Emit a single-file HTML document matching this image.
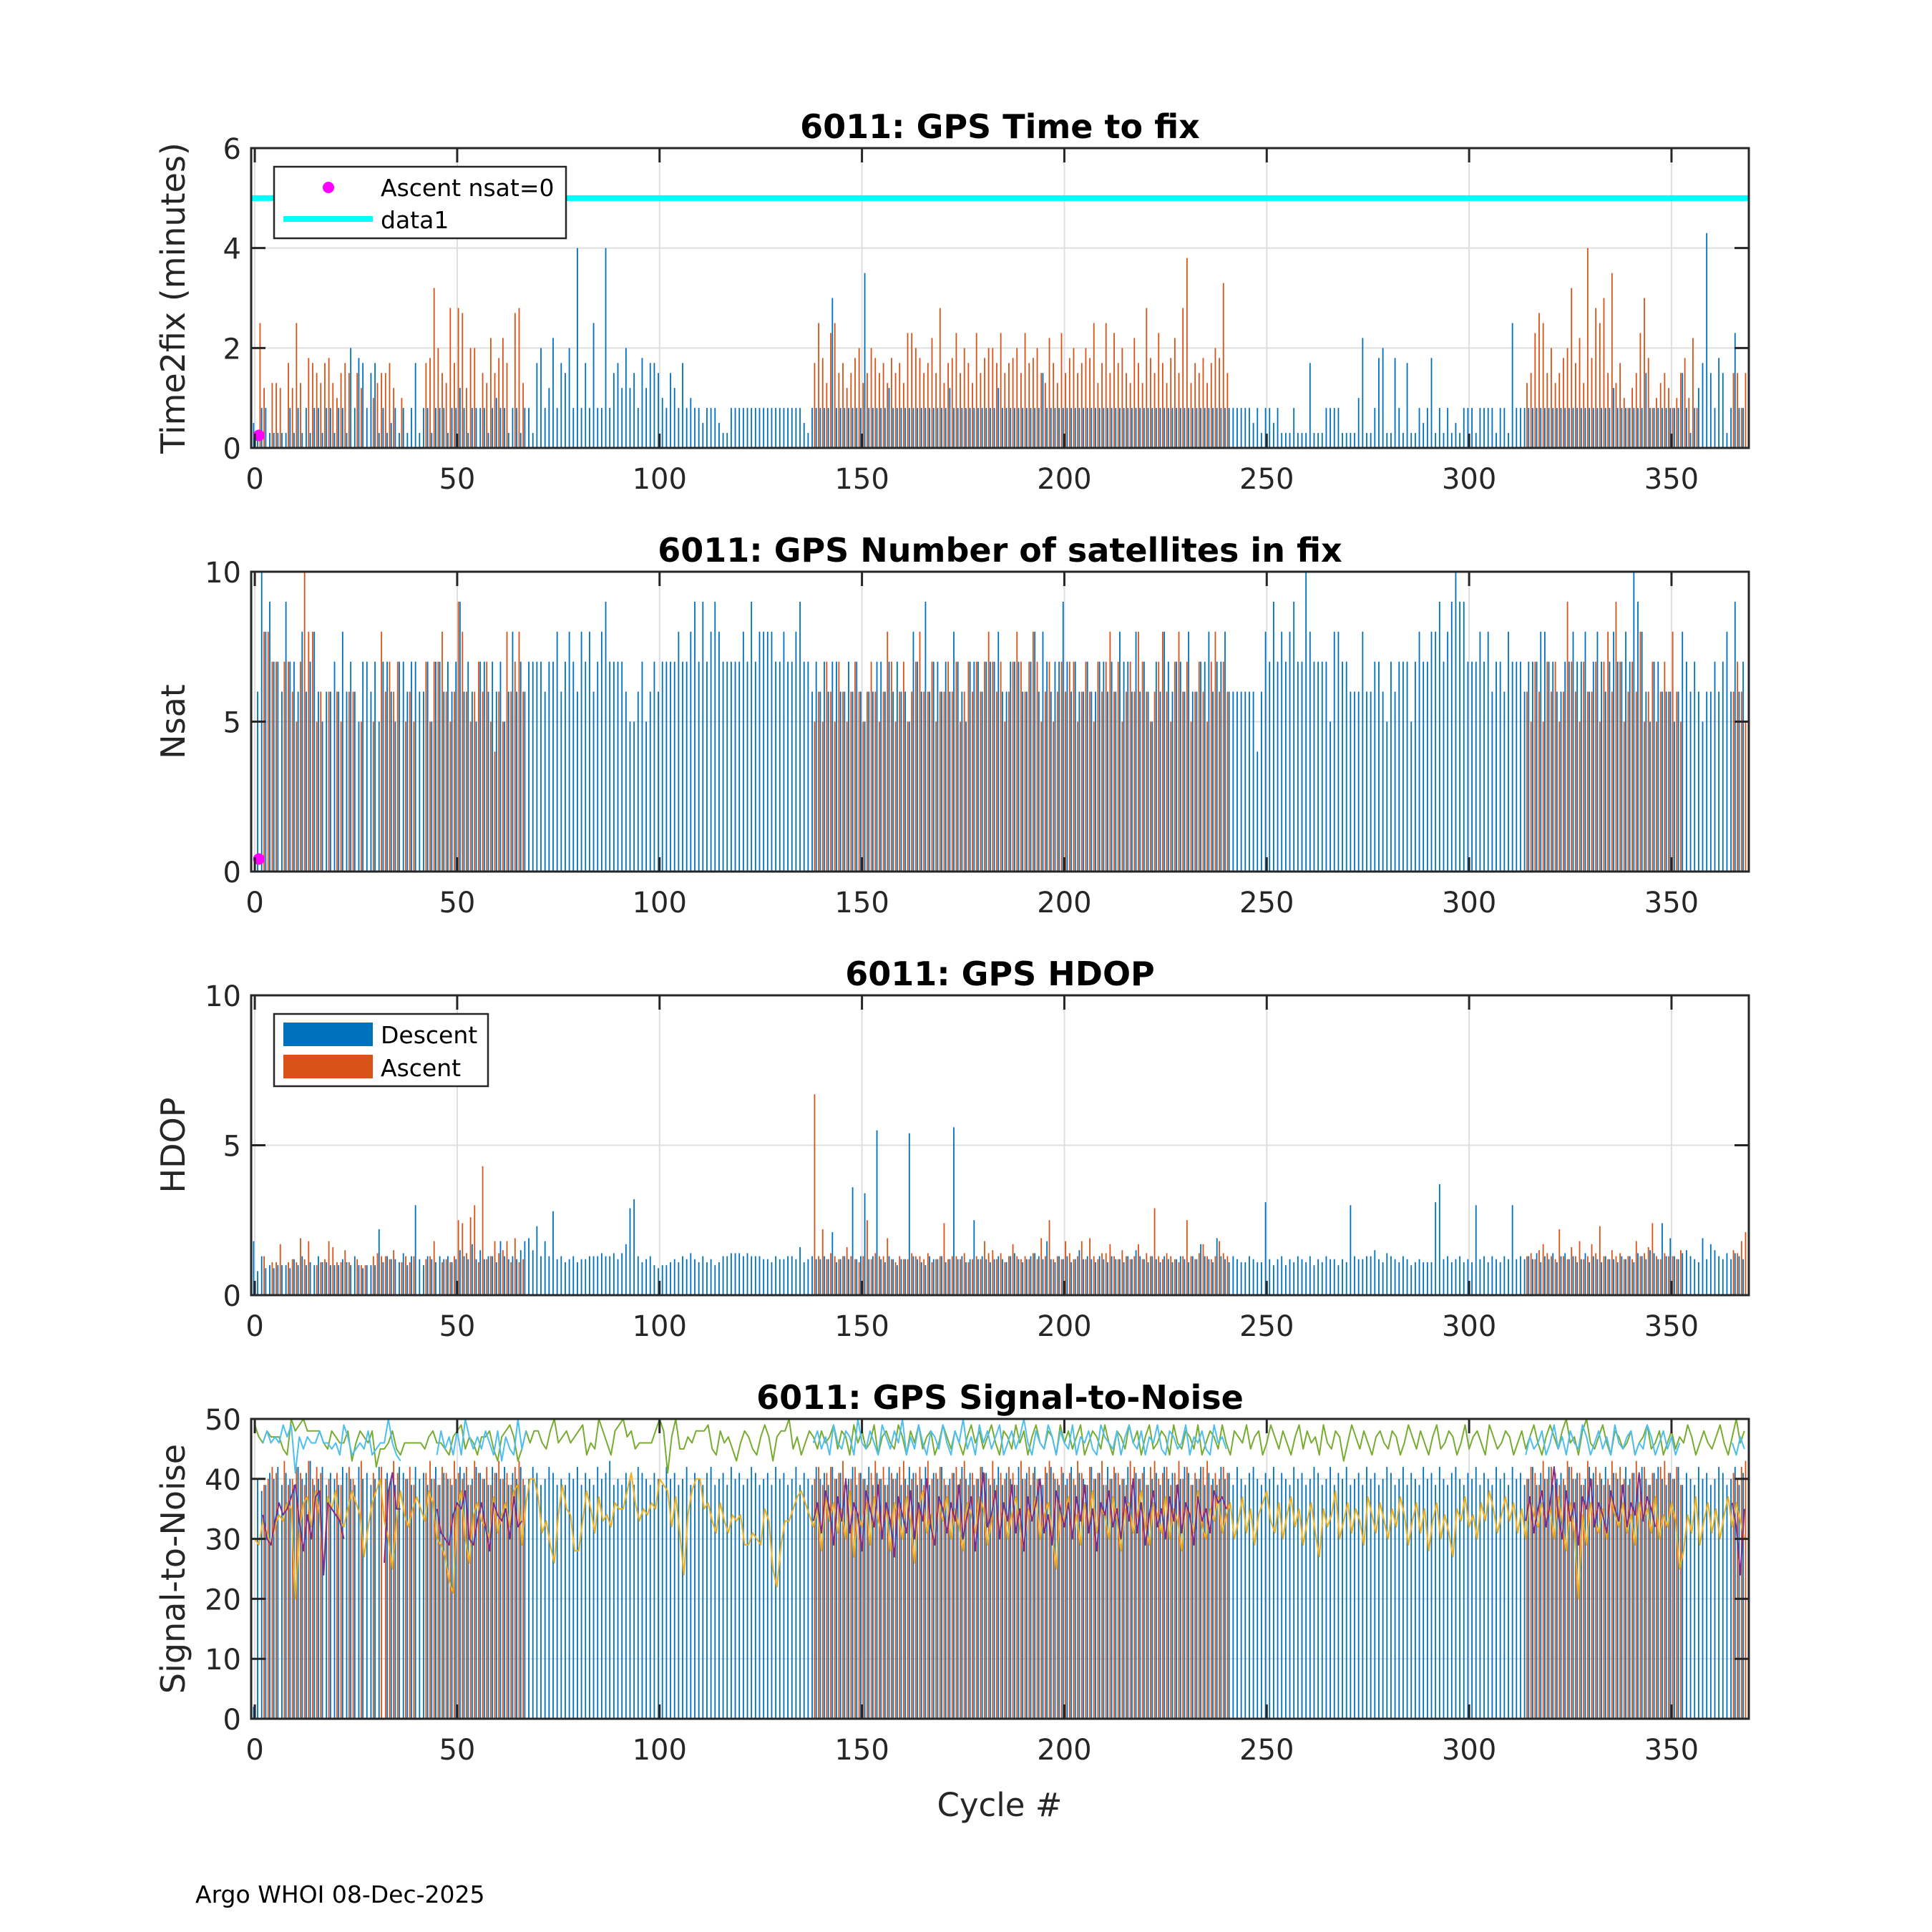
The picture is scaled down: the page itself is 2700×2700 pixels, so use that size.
<!DOCTYPE html>
<html><head><meta charset="utf-8"><style>
html,body{margin:0;padding:0;background:#fff;}
svg{display:block;font-family:"DejaVu Sans","Liberation Sans",sans-serif;}
</style></head>
<body>
<svg id="fig" width="2700" height="2700" viewBox="0 0 2700 2700" xmlns="http://www.w3.org/2000/svg">
<rect x="0" y="0" width="2700" height="2700" fill="#fff"/>
<text x="273" y="2659" font-size="33" fill="#000">Argo WHOI 08-Dec-2025</text>
<text x="1397" y="2538" font-size="45" fill="#262626" text-anchor="middle">Cycle #</text>
</svg>
<script>
// ---------- DATA ----------
const xTicks = [0,50,100,150,200,250,300,350];
const t2fDescent = [
.5,.3,.8,.8,.3,.3,.3,.3,.3,.8, .3,.8,.3,.8,.3,.8,.8,.3,.8,.8, .3,.8,.8,.3,2,.8,1.8,1.7,.8,1.5, 1.7,.3,.8,.3,.5,.8,.3,.8,.3,.8,
1.7,.3,.8,.8,.3,.8,.8,.8,.3,.8, .8,1.2,.8,.3,.8,.8,.8,.8,.3,.8, 1,.8,.8,.3,.8,.8,.3,.8,.8,.3, 1.7,2,.8,1.2,2.2,.8,1.7,1.5,2,.8,
4,.8,1.7,.8,2.5,.8,.8,4,.8,1.5, 1.7,1.2,2,1.2,1.5,.8,1.8,1.2,1.7,1.7, 1.5,1,.8,1.5,1.2,.8,1.7,.8,1,.8, .8,.5,.8,.8,.8,.5,.3,.3,.8,.8,
.8,.8,.8,.8,.8,.8,.8,.8,.8,.8, .8,.8,.8,.8,.8,.8,.5,.3,.8,.8, .8,.8,.8,3,.8,.8,.8,.8,.8,.8, .8,3.5,.8,.8,.8,.8,.8,1.2,.8,.8,
.8,.8,.8,.8,.8,.8,.8,.8,.8,.8, .8,.8,1.2,.8,.8,.8,.8,.8,.8,.8, .8,.8,.8,.8,1.2,.8,.8,.8,.8,.8, .8,.8,.8,.8,.8,1.5,.8,.8,.8,.8,
.8,.8,.8,.8,.8,.8,.8,.8,.8,.8, .8,.8,.8,.8,.8,.8,.8,.8,.8,.8, .8,.8,.8,.8,.8,.8,.8,.8,.8,.8, .8,.8,.8,.8,.8,.8,.8,.8,.8,.8,
.8,.8,.8,.8,.8,.8,.8,.5,.8,.3, .8,.8,.5,.8,.3,.3,.3,.8,.3,.3, .3,1.7,.3,.3,.3,.8,.8,.8,.8,.3, .3,.3,.3,1,2.2,.3,.3,.8,1.8,2,
.3,.3,1.8,.8,.3,1.7,.3,.3,.8,.5, .8,1.8,.3,.8,.3,.8,.3,.5,.3,.8, .8,.8,.3,.8,.8,.8,.8,.3,.8,.8, .3,2.5,.8,.8,.8,.8,.8,.8,.8,.8,
.8,.8,.8,.8,.8,.8,.8,.8,.8,.8, .8,.8,.8,.8,.8,.8,1.2,.8,.8,.8, .8,.8,.8,.8,1.5,.8,.8,.8,.8,.8, .8,.8,.8,1.5,.8,.3,.8,1.2,1.7,4.3,
1.5,.8,1.8,1.5,.3,.8,2.3,.8,.8];
const t2fAscent = [
0,2.5,1.2,0,1.3,1.3,1.2,0,1.7,1.2, 2.5,1.3,0,1.8,1.7,1.5,1.3,1.7,1.8,1.3, 1,1.5,1.7,1.5,0,1.5,1.2,0,0,1, 1.3,1.5,1.5,1.7,1.2,0,1,0,0,0,
0,0,1.7,1.8,3.2,2,1.5,1.3,2.8,1.7, 2.8,2.7,1.2,2,2,0,1.5,1.3,2.2,1.5, 1.8,2.2,1.7,0,2.7,2.8,1.3,0,0,0,
0,0,0,0,0,0,0,0,0,0, 0,0,0,0,0,0,0,0,0,0, 0,0,0,0,0,0,0,0,0,0, 0,0,0,0,0,0,0,0,0,0, 0,0,0,0,0,0,0,0,0,0, 0,0,0,0,0,0,0,0,0,0, 0,0,0,0,0,0,0,0,
1.7,2.5,1.8,1.3,
2.3,2.5,1.5,1.7,1.2,1.5,1.8,2,1.3,1.5, 2,1.8,1.5,1.7,1.3,1.8,1.5,1.7,1.3,2.3, 2.3,2,1.8,1.5,1.7,2.2,1.5,2.8,1.3,1.7, 1.8,2.3,1.5,2,1.7,1.3,2.3,1.5,1.8,2,
2,1.7,2.3,1.5,1.7,1.8,2,1.5,2.3,1.7, 1.8,2,1.5,1.3,2.2,1.7,1.3,2.3,1.5,1.8, 2,1.5,1.7,2,1.8,2.5,1.3,1.7,2.5,1.5, 2.3,1.7,2,1.5,1.3,2.2,1.7,1.3,2.8,1.8,
1.5,2.3,1.7,1.3,1.8,2.2,1.5,2.8,3.8,1.3, 1.7,1.5,1.8,1.3,1.7,2,1.8,3.3,1.5,0,
0,0,0,0,0,0,0,0,0,0, 0,0,0,0,0,0,0,0,0,0, 0,0,0,0,0,0,0,0,0,0, 0,0,0,0,0,0,0,0,0,0, 0,0,0,0,0,0,0,0,0,0, 0,0,0,0,0,0,0,0,0,0, 0,0,0,0,0,0,0,0,0,0, 0,0,
1.3,1.5,2.3,2.7,2.5,1.5,
2,1.3,1.5,1.8,2,3.2,1.7,2.2,1.3,4, 1.8,2.8,2.5,3,1.5,3.5,1.3,1.7,1,.8, 1.2,1.5,2.3,3,1.8,.8,1,1.3,1.5,1.2, .8,1,1.5,1.8,1,2.2,.8,0,0,0,
0,0,0,0,0,1.5,1.5,.8,1.5];
const nsatDescent = [
0,6,10,8,9,7,7,6,9,7, 7,6,8,6,7,8,6,5,6,6, 7,6,8,6,7,6,5,7,7,6, 7,5,7,7,6,5,7,7,6,7, 7,6,6,7,5,7,7,6,7,6, 7,9,6,7,6,5,7,7,6,7, 6,7,5,6,8,6,7,6,7,7,
7,7,6,7,7,8,6,7,8,7, 6,8,7,8,6,7,8,9,7,7, 7,7,6,5,5,6,7,5,6,7, 6,7,7,7,7,8,7,7,8,9, 7,9,7,8,9,8,7,7,7,7, 7,8,7,9,7,8,8,8,8,7, 7,8,7,7,8,9,7,7,6,7,
6,7,6,7,7,6,6,7,6,7, 6,5,6,6,7,7,6,7,6,7, 6,6,5,8,7,6,9,6,7,7, 6,7,6,8,7,6,5,7,7,7, 6,7,7,7,8,6,6,7,7,7, 6,6,7,8,6,8,7,6,7,7, 9,7,6,7,6,6,7,6,6,7,
7,6,7,6,8,7,7,6,8,6, 7,6,5,7,6,8,7,6,7,7, 6,8,6,6,7,7,8,6,7,7, 8,6,6,6,6,6,6,6,4,6, 8,7,9,7,8,7,8,9,7,7, 10,8,7,7,7,7,5,8,8,7, 7,6,6,6,8,6,6,7,7,6,
5,7,6,7,7,7,5,7,8,7, 7,8,8,9,7,8,9,10,9,9, 7,7,7,8,7,8,6,7,7,6, 8,7,7,7,6,7,7,7,8,8, 7,7,6,6,7,7,8,7,7,8, 6,7,8,7,6,7,8,7,7,8, 7,10,9,8,6,5,7,7,6,6,
6,5,6,8,7,6,7,6,5,6, 6,7,6,7,8,6,9,6,7];
const nsatAscent = [
0,0,8,8,7,7,0,7,7,6, 5,7,10,8,8,5,6,0,6,0, 6,5,0,6,6,0,5,0,0,5, 0,8,6,7,6,7,0,5,6,5, 0,0,7,5,7,7,8,6,5,6, 9,8,6,5,6,7,6,7,5,4, 6,5,8,6,7,8,6,0,0,0,
0,0,0,0,0,0,0,0,0,0, 0,0,0,0,0,0,0,0,0,0, 0,0,0,0,0,0,0,0,0,0, 0,0,0,0,0,0,0,0,0,0, 0,0,0,0,0,0,0,0,0,0, 0,0,0,0,0,0,0,0,0,0, 0,0,0,0,0,0,0,0,
5,6,5,7,
6,5,7,6,5,6,7,6,5,6, 7,6,5,6,8,7,5,6,7,5, 6,7,8,6,6,7,5,6,6,7, 6,7,5,6,7,6,7,6,7,8, 7,6,7,5,6,7,8,7,6,7, 8,7,5,6,7,5,6,7,6,7, 7,5,6,7,6,5,7,6,7,8,
6,7,5,6,7,6,8,7,6,5, 6,7,8,6,5,7,8,6,7,5, 6,7,6,5,7,8,6,7,6,0,
0,0,0,0,0,0,0,0,0,0, 0,0,0,0,0,0,0,0,0,0, 0,0,0,0,0,0,0,0,0,0, 0,0,0,0,0,0,0,0,0,0, 0,0,0,0,0,0,0,0,0,0, 0,0,0,0,0,0,0,0,0,0, 0,0,0,0,0,0,0,0,0,0, 0,0,
6,5,7,6,5,7,
6,7,5,6,9,7,6,5,7,6, 6,7,5,7,8,6,9,7,5,6, 7,6,8,5,6,7,5,6,7,6, 8,6,5,0,0,0,0,0,0,0, 0,0,0,0,0,6,7,6,5];
const nsatZeroCycles = [1];
const nsatZeroValues = [0.25];
const hdopDescent = [
1.8,.8,1.3,.9,1,.9,1,1,1,.9, 1.2,1,1.3,1,1.1,1,1.3,1.1,1.1,1, 1,1,1.2,1.1,1,1.3,1,.9,1,1, 1,2.2,1.1,1.3,1.2,1.2,1.1,1.4,1,1.3, 3,1.2,1,1.3,1.2,1.1,1.3,1.2,1.3,1.1,
1.2,1.5,1.3,1.2,1.7,1.2,1.5,1.2,1.3,1.3, 1.1,1.8,1.3,1.2,1.3,1.2,1.5,1.8,1.9,1.5, 2.3,1.3,1.8,1.3,2.8,1.2,1.3,1.1,1.2,1.3, 1.1,1.2,1.2,1.3,1.3,1.3,1.4,1.3,1.3,1.4,
1.2,1.4,1.7,2.9,3.2,1.3,1.1,1.2,1.3,1, .9,1,1,1.1,1.2,1.1,1.3,1.2,1.4,1.2, 1.1,1.3,1.1,1.2,1,1.1,1.3,1.3,1.4,1.4, 1.4,1.3,1.4,1.3,1.3,1.3,1.2,1.2,1.1,1.3,
1.2,1.2,1.3,1.3,1.2,1.6,1.1,1.2,1.3,1.2, 1.2,1.3,1.2,2.1,1.1,1.2,1.3,1.2,3.6,1.2, 1.3,3.4,1.2,1.3,5.5,1.2,1.1,1.3,1.2,1, 1.2,1.2,5.4,1.3,1.2,1.1,1,1.3,1.2,1.2,
1.3,1.1,1.2,5.6,1.2,1.3,1.1,1.2,2.5,1.2, 1.3,1.2,1.1,1.2,1.3,1.2,1.1,1.3,1.4,1.2, 1.1,1.2,1.3,1.4,1.3,1.2,1.8,1.2,1.1,1.3, 1.2,1.3,1.1,1.2,1.5,1.2,1.3,1.2,1.1,1.3,
1.2,1.1,1.3,1.2,1.2,1.1,1.3,1.2,1.5,1.3, 1.2,1.1,1.3,1.2,1.1,1.3,1.2,1.1,1.2,1.3, 1.2,1.1,1.3,1.2,1.7,1.3,1.2,1.1,1.9,1.3, 1.2,1.1,1.3,1.2,1.1,1.1,1.3,1.2,1.1,1.1,
3.1,1.2,1,1.2,1.3,1,1.2,1.1,1.3,1.2, 1.1,1.3,1,1.2,1.1,1.3,1.2,1.2,1,1.2, 1.1,3,1.3,1.2,1.2,1.3,1.3,1.5,1.2,1.1, 1.4,1.3,1.2,1.1,1.3,1.2,1,1.1,1.2,1.1,
1.1,1.1,3.1,3.7,1.2,1.3,1.1,1.2,1.3,1.1, 1.2,1.1,3,1.2,1.3,1.1,1.3,1.2,1.1,1.3, 1.2,3,1.2,1.3,1.2,1.3,1.2,1.4,1.1,1.3, 1.2,1.4,1.1,1.3,1.4,1.2,1.3,1.1,1.2,1.4,
1.1,1.3,1.2,1.1,1.3,1.2,1.2,1.1,1.3,1.2, 1.3,1.1,1.4,1.3,1.2,1.5,1.4,1.2,2.4,1.3, 1.9,1.3,1.2,1.4,1.5,1.3,1.2,1.1,1.9,1.2, 1.7,1.5,1.3,1.2,1.4,1.2,1.4,1.3,1.2];
const hdopAscent = [
0,0,1.3,0,1.1,1.1,1.7,0,1.1,1.2, 1.1,1.9,1.2,1.8,0,1,1.1,1.2,1.8,1.6, 1.1,1.1,1.5,1.1,0,1.2,1,1,0,1.3, 1.4,1.3,1.3,1.2,1.5,0,1.1,1.3,1.1,1.3, 0,0,1.2,1.3,1.8,0,1.1,1.2,1.1,1.3,
2.5,2.4,1.4,2.6,3,1.1,4.3,1.2,1.3,1.8, 1.4,1.5,1.8,1.1,1.9,1.1,1.2,0,0,0,
0,0,0,0,0,0,0,0,0,0, 0,0,0,0,0,0,0,0,0,0, 0,0,0,0,0,0,0,0,0,0, 0,0,0,0,0,0,0,0,0,0, 0,0,0,0,0,0,0,0,0,0, 0,0,0,0,0,0,0,0,0,0, 0,0,0,0,0,0,0,0,
6.7,1.3,2.2,1.2,
1.4,1.3,1.2,1.3,1.6,1.3,1.2,1.1,1.3,2.5, 1.2,1.4,1.3,1.3,1.9,1.2,1.1,1.3,1.2,1.2, 1.4,1.3,1.3,1.2,1.4,1.1,1.2,1.3,2.4,1.2, 1.3,1.3,1.2,1.4,1.1,1.2,1.3,1.2,1.8,1.4,
1.5,1.2,1.4,1.1,1.3,1.7,1.3,1.2,1.3,1.2, 1.4,1.2,1.9,1.3,2.5,1.2,1.3,1.2,1.8,1.4, 1.2,1.3,1.8,1.2,1.9,1.3,1.2,1.4,1.4,1.7, 1.3,1.2,1.5,1.3,1.2,1.3,1.7,1.2,1.4,1.3,
2.9,1.3,1.2,1.4,1.3,1.2,1.1,1.3,2.5,1.3, 1.2,1.4,1.7,1.3,1.2,1.3,1.8,1.4,1.3,0,
0,0,0,0,0,0,0,0,0,0, 0,0,0,0,0,0,0,0,0,0, 0,0,0,0,0,0,0,0,0,0, 0,0,0,0,0,0,0,0,0,0, 0,0,0,0,0,0,0,0,0,0, 0,0,0,0,0,0,0,0,0,0, 0,0,0,0,0,0,0,0,0,0, 0,0,
1.3,1.4,1.2,1.5,1.7,1.4,
1.3,1.2,2.2,1.3,1.2,1.6,1.3,1.8,1.2,1.3, 1.7,1.4,2.3,1.3,1.2,1.5,1.3,1.4,1.2,1.3, 1.2,1.8,1.3,1.4,1.6,2.4,1.3,1.2,1.4,1.3, 1.3,1.2,1.5,0,0,0,0,0,0,0, 0,0,0,0,0,1.5,1.4,1.8,2.1];
const snrDescent = [
2,40,38,39,41,40,42,39,41,40, 39,42,40,41,43,39,40,42,39,41, 40,39,42,41,40,39,42,40,41,39, 40,42,0,41,40,39,42,41,40,39, 42,40,41,39,40,42,39,41,40,39,
40,42,41,39,40,42,41,40,39,42, 41,40,42,39,41,40,42,39,40,42, 41,39,40,42,41,39,40,39,41,40, 42,39,41,40,39,42,40,41,43,39, 40,39,41,40,39,42,41,40,39,41,
40,39,42,40,41,39,40,42,39,41, 40,39,41,42,39,40,41,39,42,40, 41,39,40,42,41,39,40,41,39,42, 40,41,39,40,42,39,41,40,39,42, 40,41,39,42,40,41,39,40,42,39,
41,40,42,39,41,40,39,42,40,41, 39,40,42,41,39,40,42,39,41,40, 42,39,40,41,39,42,40,41,39,40, 42,41,39,40,42,39,41,40,39,42, 40,41,39,42,40,39,41,42,40,39,
41,40,42,39,41,40,39,42,40,41, 39,42,40,41,39,40,42,39,41,40, 42,39,40,41,39,42,40,41,39,40, 42,41,39,40,42,39,41,40,39,42, 40,41,39,42,40,39,41,42,40,39,
41,40,42,39,41,40,39,42,40,41, 39,40,42,41,39,40,42,39,41,40, 42,39,40,41,39,42,40,41,39,40, 42,41,39,40,42,39,41,40,39,42, 40,41,39,42,40,39,41,42,40,39,
41,40,42,39,41,40,39,42,40,41, 39,42,40,41,39,40,42,39,41,40, 42,39,40,41,39,42,40,41,39,40, 42,41,39,40,42,39,41,40,39,42, 40,41,39,42,40,39,41,42,40,39,
41,40,42,39,41,40,39,42,40,41, 39,40,42,41,39,40,42,39,41];
const snrAscent = [
0,0,39,40,42,41,0,43,39,40, 42,41,39,43,40,42,41,0,40,0, 41,39,0,42,40,0,43,0,0,41, 0,42,40,39,43,41,0,40,42,39, 0,0,41,43,40,39,42,41,40,43, 41,40,42,39,43,41,40,42,39,41, 43,40,41,39,42,43,40,0,0,0,
0,0,0,0,0,0,0,0,0,0, 0,0,0,0,0,0,0,0,0,0, 0,0,0,0,0,0,0,0,0,0, 0,0,0,0,0,0,0,0,0,0, 0,0,0,0,0,0,0,0,0,0, 0,0,0,0,0,0,0,0,0,0, 0,0,0,0,0,0,0,0,
40,42,39,41,
42,40,41,43,39,40,42,41,40,39, 41,43,40,42,39,41,40,42,43,39, 40,41,42,39,43,40,41,42,40,39, 41,42,40,43,39,41,40,42,41,40, 43,39,41,40,42,41,39,43,40,42, 41,40,39,42,43,41,40,42,39,41, 40,43,41,39,42,40,41,43,39,40,
42,41,40,39,43,42,40,41,39,42, 43,40,41,42,39,41,43,40,42,39, 41,40,42,43,39,41,40,42,41,0,
0,0,0,0,0,0,0,0,0,0, 0,0,0,0,0,0,0,0,0,0, 0,0,0,0,0,0,0,0,0,0, 0,0,0,0,0,0,0,0,0,0, 0,0,0,0,0,0,0,0,0,0, 0,0,0,0,0,0,0,0,0,0, 0,0,0,0,0,0,0,0,0,0, 0,0,
40,42,41,39,43,40,
42,41,39,40,43,42,40,41,39,43, 40,42,41,39,40,43,41,42,40,39, 41,43,40,42,39,41,40,42,43,41, 40,42,39,0,0,0,0,0,0,0, 0,0,0,0,0,41,40,42,43];
const snrGreen = [
49,47,46,48,47,47,47,45,44,50, 48,49,50,48,48,48,48,46,45,48, 47,46,46,48,43,46,48,47,46,48, 42,45,45,46,48,45,44,46,46,46, 46,46,45,47,48,46,46,45,44,47, 48,49,45,47,46,44,47,47,48,45, 43,47,48,49,47,43,45,48,46,48,
48,46,45,48,50,46,47,48,46,47, 48,49,44,46,45,50,48,46,44,48, 49,50,47,48,45,46,46,46,46,48, 50,48,41,47,50,45,45,47,46,48, 48,48,49,45,44,48,46,47,45,43, 46,48,47,45,44,47,49,47,43,47,
48,48,50,45,47,44,46,48,47,45, 48,46,47,49,45,48,47,44,49,46, 48,45,46,49,44,47,48,46,45,49, 47,44,48,46,49,45,47,48,44,46, 49,47,45,48,46,44,47,49,46,48, 45,47,49,46,44,48,47,45,49,46,
48,44,47,49,46,45,48,47,44,49, 46,48,45,47,49,44,46,48,47,45, 49,46,44,48,47,45,49,46,48,44, 47,49,45,46,48,47,44,49,46,45, 48,47,45,49,44,46,48,47,45,49, 46,44,48,47,46,49,45,47,48,44,
46,49,47,45,48,46,44,47,49,45, 48,46,47,44,49,46,45,48,47,43, 46,49,47,45,48,46,44,47,48,46, 45,48,47,44,46,49,47,45,48,46, 44,47,49,45,46,48,47,44,46,49, 45,47,48,46,44,49,47,45,46,48,
47,44,46,48,45,47,49,46,44,47, 49,47,45,48,50,46,47,44,48,50, 46,45,47,49,46,44,48,47,45,46, 48,44,46,47,49,45,46,48,44,46, 48,45,47,46,49,47,44,46,48,46, 45,47,49,46,44,47,50,46,48];
const N = null;
const snrLightBlue = [
N,N,46,48,46,47,46,49,47,49, 41,47,45,47,46,46,48,46,46,45, 46,44,49,47,44,45,46,45,48,44, 45,46,46,50,46,44,43,N,N,N, N,N,N,N,N,44,48,45,47,44, 48,44,50,47,45,47,45,48,46,44, 48,43,47,45,44,50,45,48,N,N,
N,N,N,N,N,N,N,N,N,N, N,N,N,N,N,N,N,N,N,N, N,N,N,N,N,N,N,N,N,N, N,N,N,N,N,N,N,N,N,N, N,N,N,N,N,N,N,N,N,N, N,N,N,N,N,N,N,N,N,N, N,N,N,N,N,N,N,N,
46,48,45,47,
44,49,46,45,48,47,44,50,46,45, 48,46,44,49,47,45,48,46,50,44, 47,45,49,46,44,48,47,45,49,46, 44,48,46,50,45,47,44,49,46,48, 45,47,49,44,46,48,45,47,50,46, 44,48,46,45,49,47,44,48,46,45, 49,44,47,46,48,45,44,49,47,46,
45,48,44,47,49,46,45,48,44,47, 46,49,45,44,48,47,45,46,49,44, 47,46,48,45,44,49,46,47,45,N,
N,N,N,N,N,N,N,N,N,N, N,N,N,N,N,N,N,N,N,N, N,N,N,N,N,N,N,N,N,N, N,N,N,N,N,N,N,N,N,N, N,N,N,N,N,N,N,N,N,N, N,N,N,N,N,N,N,N,N,N, N,N,N,N,N,N,N,N,N,N, N,N,
44,47,45,46,48,44,
46,49,45,47,44,48,46,45,49,47, 44,46,48,45,47,44,49,46,45,47, 48,44,46,45,49,47,44,46,48,45, 47,44,46,N,N,N,N,N,N,N, N,N,N,N,N,46,44,47,45];
const snrPurple = [
N,N,34,30,29,33,36,34,35,37, 39,33,28,34,30,37,38,24,36,35, 34,33,30,N,N,N,N,N,N,N, N,N,26,38,41,35,35,N,N,N, N,N,N,N,N,35,31,30,29,34, 36,35,38,30,29,33,36,32,28,36, 34,33,35,30,37,32,33,N,N,N,
N,N,N,N,N,N,N,N,N,N, N,N,N,N,N,N,N,N,N,N, N,N,N,N,N,N,N,N,N,N, N,N,N,N,N,N,N,N,N,N, N,N,N,N,N,N,N,N,N,N, N,N,N,N,N,N,N,N,N,N, N,N,N,N,N,N,N,N,
33,36,31,38,
35,29,37,33,40,31,36,34,28,38, 35,32,39,30,36,33,27,37,34,31, 38,30,36,33,40,32,29,37,35,31, 36,33,39,30,34,37,28,35,41,32, 34,38,30,36,33,39,31,35,28,37, 33,36,40,31,34,29,38,35,32,36, 30,37,33,39,31,35,28,36,34,38,
32,35,30,37,33,40,31,36,29,34, 38,32,35,30,37,33,39,31,36,34, 29,37,33,35,31,38,36,37,35,N,
N,N,N,N,N,N,N,N,N,N, N,N,N,N,N,N,N,N,N,N, N,N,N,N,N,N,N,N,N,N, N,N,N,N,N,N,N,N,N,N, N,N,N,N,N,N,N,N,N,N, N,N,N,N,N,N,N,N,N,N, N,N,N,N,N,N,N,N,N,N, N,N,
33,37,31,35,38,32,
36,42,34,30,38,33,36,29,37,35, 40,32,36,34,31,38,35,33,39,32, 36,34,41,33,37,35,32,N,N,N, N,N,N,N,N,N,N,N,N,N, N,N,N,N,N,36,32,24,35];
const snrYellow = [
30,29,33,31,29,32,34,33,36,35, 20,31,36,37,32,38,34,25,37,35, 38,33,32,35,38,36,34,27,32,36, 38,40,33,30,25,33,38,34,32,35, 37,35,33,38,36,30,29,27,23,21, 35,38,30,26,34,36,33,32,30,37, 31,34,36,32,38,39,29,36,40,40,
37,31,33,29,26,34,39,35,34,28, 28,33,38,35,31,37,33,34,32,36, 35,35,38,41,36,33,35,34,36,35, 40,39,38,32,37,31,24,34,38,40, 40,35,36,33,31,36,33,31,34,33, 34,29,29,31,30,29,35,33,25,22,
29,33,33,35,37,38,36,34,32,35, 28,37,33,36,31,35,30,38,27,34, 32,36,29,37,33,31,35,28,36,34, 30,37,33,26,35,38,31,34,29,36, 33,37,30,35,32,28,36,34,31,37, 35,29,33,38,31,36,30,34,37,32,
28,35,33,37,30,34,36,31,25,35, 33,37,30,34,29,36,32,38,31,35, 34,30,37,33,28,35,36,31,34,38, 32,29,36,34,31,37,30,35,33,28, 36,34,31,38,32,30,35,33,37,31, 34,36,30,33,37,31,35,29,34,36,
38,33,31,36,30,34,37,32,35,29, 33,36,31,27,35,32,34,38,30,33, 36,31,35,33,29,37,34,31,36,33, 30,35,32,37,34,29,33,36,31,35, 28,33,36,30,34,31,27,35,33,37, 32,34,30,36,33,38,35,31,34,37,
33,36,31,35,30,37,34,32,36,33, 35,30,37,33,28,36,31,20,34,29, 36,33,31,35,30,37,34,32,36,31, 34,29,36,33,35,31,37,30,34,32, 36,33,25,28,34,31,37,29,33,36, 31,35,30,34,37,32,36,33,30];
const cyanLevel = [5];

// ---------- LAYOUT ----------
const SVGNS = "http://www.w3.org/2000/svg";
const svg = document.getElementById('fig');
const L = 351, R = 2444, H = 419;
const XMIN = -0.9, XMAX = 369.1;
const BLUE = '#0072BD', ORANGE = '#D95319', AX = '#262626', GRID = '#dfdfdf';
function xs(v){ return L + (v - XMIN) / (XMAX - XMIN) * (R - L); }
function mk(tag, attrs, parent){
  const e = document.createElementNS(SVGNS, tag);
  for (const k in attrs) e.setAttribute(k, attrs[k]);
  (parent || svg).appendChild(e);
  return e;
}

const panels = [
  {top:207, ymax:6, yticks:[0,2,4,6], title:'6011: GPS Time to fix', ylabel:'Time2fix (minutes)', d:t2fDescent, a:t2fAscent, key:'time-to-fix'},
  {top:799, ymax:10, yticks:[0,5,10], title:'6011: GPS Number of satellites in fix', ylabel:'Nsat', d:nsatDescent, a:nsatAscent, key:'nsat'},
  {top:1391, ymax:10, yticks:[0,5,10], title:'6011: GPS HDOP', ylabel:'HDOP', d:hdopDescent, a:hdopAscent, key:'hdop'},
  {top:1983, ymax:50, yticks:[0,10,20,30,40,50], title:'6011: GPS Signal-to-Noise', ylabel:'Signal-to-Noise', d:snrDescent, a:snrAscent, key:'snr'}
];

panels.forEach((p, pi) => {
  const bottom = p.top + H;
  const ys = v => bottom - v / p.ymax * H;
  const g = mk('g', {});
  
  

  xTicks.forEach(t => {
    const ln = mk('line', {x1:xs(t), x2:xs(t), y1:p.top, y2:bottom, stroke:GRID, 'stroke-width':2}, g);
    
    
  });
  p.yticks.forEach(t => {
    const ln = mk('line', {x1:L, x2:R, y1:ys(t), y2:ys(t), stroke:GRID, 'stroke-width':2}, g);
    
    
  });

  const bw = 0.32 * (R - L) / (XMAX - XMIN);
  p.d.forEach((v, i) => {
    if (!v) return;
    const r = mk('rect', {x:xs(i - 0.3) - bw/2, y:ys(v), width:bw, height:bottom - ys(v), fill:BLUE}, g);
    
    
  });
  p.a.forEach((v, i) => {
    if (!v) return;
    const r = mk('rect', {x:xs(i + 0.3) - bw/2, y:ys(v), width:bw, height:bottom - ys(v), fill:ORANGE}, g);
    
    
  });

  if (pi === 3) {
    [[snrGreen,'#77AC30','snr-line-green'],[snrLightBlue,'#4DBEEE','snr-line-lightblue'],[snrYellow,'#EDB120','snr-line-yellow'],[snrPurple,'#7E2F8E','snr-line-purple']].forEach(s => {
      let d = '', pen = false;
      s[0].forEach((v, i) => {
        if (v === null) { pen = false; return; }
        d += (pen ? 'L' : 'M') + xs(i).toFixed(1) + ' ' + ys(v).toFixed(1);
        pen = true;
      });
      const pth = mk('path', {d:d, fill:'none', stroke:s[1], 'stroke-width':2, 'stroke-linejoin':'round'}, g);
      
      
    });
  }

  if (pi === 0) {
    cyanLevel.forEach(v => {
      const cl = mk('line', {x1:L, x2:R, y1:ys(v), y2:ys(v), stroke:'#00FFFF', 'stroke-width':8}, g);
      
      
    });
  }
  if (pi === 0 || pi === 1) {
    nsatZeroCycles.forEach((c, k) => {
      const yv = pi === 0 ? nsatZeroValues[k] : nsatZeroValues[k] * p.ymax / 6;
      const m = mk('circle', {cx:xs(c), cy:ys(yv), r:8, fill:'#FF00FF'}, g);
      
      
    });
  }

  const box = mk('rect', {x:L, y:p.top, width:R - L, height:H, fill:'none', stroke:AX, 'stroke-width':3}, g);
  
  
  xTicks.forEach(t => {
    const t1 = mk('line', {x1:xs(t), x2:xs(t), y1:bottom, y2:bottom - 20, stroke:AX, 'stroke-width':3}, g);
    
    
    const t2 = mk('line', {x1:xs(t), x2:xs(t), y1:p.top, y2:p.top + 20, stroke:AX, 'stroke-width':3}, g);
    
    
    const lb = mk('text', {x:xs(t), y:bottom + 57, 'font-size':40, fill:AX, 'text-anchor':'middle'}, g);
    lb.textContent = t;
    
    
  });
  p.yticks.forEach(t => {
    const t1 = mk('line', {x1:L, x2:L + 20, y1:ys(t), y2:ys(t), stroke:AX, 'stroke-width':3}, g);
    
    
    const t2 = mk('line', {x1:R, x2:R - 20, y1:ys(t), y2:ys(t), stroke:AX, 'stroke-width':3}, g);
    
    
    const lb = mk('text', {x:L - 14, y:ys(t) + 15, 'font-size':40, fill:AX, 'text-anchor':'end'}, g);
    lb.textContent = t;
    
    
  });
  const ti = mk('text', {x:(L + R) / 2, y:p.top - 14, 'font-size':46, 'font-weight':'bold', fill:'#000', 'text-anchor':'middle'}, g);
  ti.textContent = p.title;
  
  
  const cy = p.top + H / 2;
  const yl = mk('text', {x:258, y:cy, 'font-size':46, fill:AX, 'text-anchor':'middle', transform:'rotate(-90 258 ' + cy + ')'}, g);
  yl.textContent = p.ylabel;
  
  
});

// ---------- LEGENDS ----------
const lg1 = mk('g', {});


mk('rect', {x:383, y:233, width:408, height:100, fill:'#fff', stroke:AX, 'stroke-width':2.5}, lg1);
const mdot = mk('circle', {cx:459, cy:262, r:8, fill:'#FF00FF'}, lg1);


const lt1 = mk('text', {x:532, y:274, 'font-size':33, fill:'#000'}, lg1);
lt1.textContent = 'Ascent nsat=0';


const cline = mk('line', {x1:396, x2:521, y1:306, y2:306, stroke:'#00FFFF', 'stroke-width':8}, lg1);


const lt2 = mk('text', {x:532, y:319, 'font-size':33, fill:'#000'}, lg1);
lt2.textContent = 'data1';



const lg3 = mk('g', {});


mk('rect', {x:383, y:1417, width:299, height:101, fill:'#fff', stroke:AX, 'stroke-width':2.5}, lg3);
const sw1 = mk('rect', {x:396, y:1429, width:125, height:33, fill:BLUE}, lg3);


const dt = mk('text', {x:532, y:1458, 'font-size':33, fill:'#000'}, lg3);
dt.textContent = 'Descent';


const sw2 = mk('rect', {x:396, y:1474, width:125, height:33, fill:ORANGE}, lg3);


const at = mk('text', {x:532, y:1504, 'font-size':33, fill:'#000'}, lg3);
at.textContent = 'Ascent';


</script>
</body></html>
